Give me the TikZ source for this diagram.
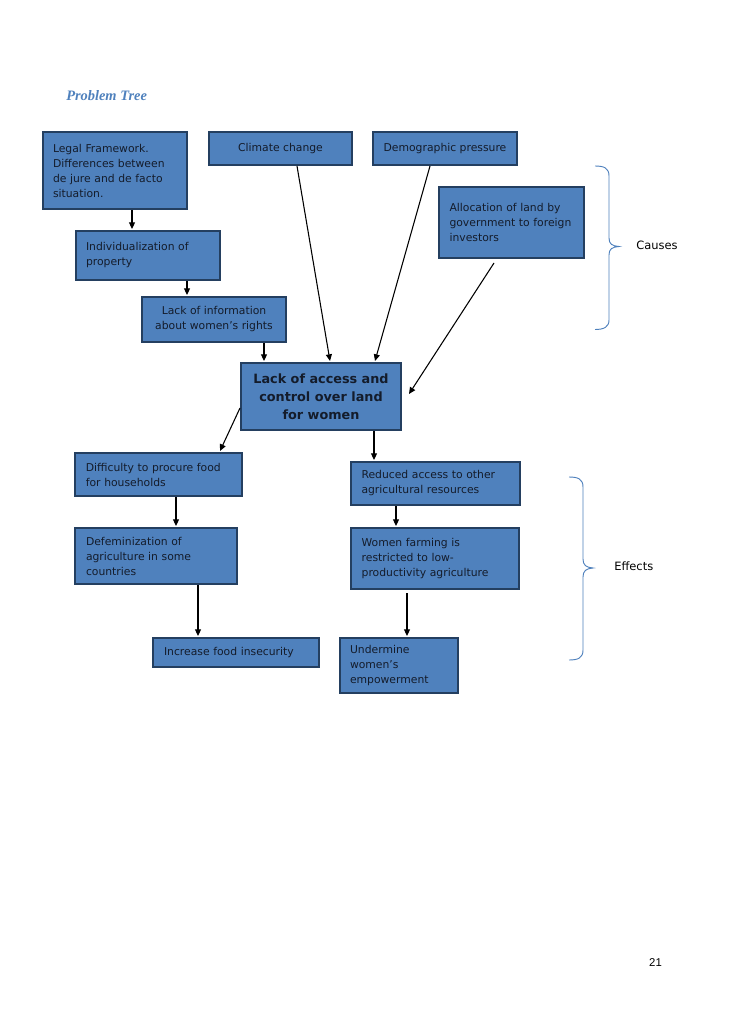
\documentclass[tikz,border=0pt]{standalone}
\usepackage{fontspec}
\setmainfont{DejaVu Sans}
\newfontfamily\titlefont{Liberation Serif}
\newfontfamily\pagefont{Liberation Sans}
\usetikzlibrary{arrows.meta,calc}
\definecolor{boxfill}{HTML}{4F81BD}
\definecolor{boxline}{HTML}{243F60}
\definecolor{boxtext}{HTML}{141C2B}
\definecolor{bracecol}{HTML}{4F81BD}
\tikzset{
  box/.style={draw=boxline, fill=boxfill, line width=1.5pt, inner sep=0pt,
    text=boxtext, font=\fontsize{8.1pt}{11.25pt}\selectfont},
  arr/.style={-{Triangle[width=4.5pt,length=5pt]}, line width=0.8pt, black},
  bracestyle/.style={draw=bracecol, line width=0.7pt},
  sidelabel/.style={anchor=west, font=\fontsize{8.6pt}{10pt}\selectfont, text=black, inner sep=0pt}
}
\begin{document}
\begin{tikzpicture}[x=0.75pt,y=-0.75pt]
\useasboundingbox[fill=white] (0,0) rectangle (728,1030);

\node[anchor=base west, inner sep=0pt, text=boxfill, font=\titlefont\bfseries\itshape\fontsize{10.8pt}{12pt}\selectfont] (title) at (66,101) {Problem Tree};

% cause boxes
\node[box, minimum width=108pt, minimum height=57.75pt, text width=93pt, align=left] (legal) at (115,170.5)
  {Legal Framework.\\Differences between\\de jure and de facto\\situation.};
\node[box, minimum width=107.25pt, minimum height=24.75pt, align=center] (climate) at (280.5,148.5) {Climate change};
\node[box, minimum width=108pt, minimum height=24.75pt, align=center] (demo) at (445,148.5) {Demographic pressure};
\node[box, minimum width=108.75pt, minimum height=53.25pt, text width=93pt, align=left] (alloc) at (511.5,222.5)
  {Allocation of land by\\government to foreign\\investors};
\node[box, minimum width=108pt, minimum height=36.75pt, text width=93pt, align=left] (indiv) at (148,255.5)
  {Individualization of\\property};
\node[box, minimum width=108pt, minimum height=33.75pt, align=center] (info) at (214,319.5)
  {Lack of information\\about women's rights};
\node[box, minimum width=120pt, minimum height=50.25pt, align=center,
  font=\bfseries\fontsize{9.6pt}{13.5pt}\selectfont] (core) at (321,396.5)
  {Lack of access and\\control over land\\for women};

% effect boxes
\node[box, minimum width=125.25pt, minimum height=32.25pt, text width=109pt, align=left] (diff) at (158.5,474.5)
  {Difficulty to procure food\\for households};
\node[box, minimum width=126.75pt, minimum height=32.25pt, text width=111pt, align=left] (reduced) at (435.5,483.5)
  {Reduced access to other\\agricultural resources};
\node[box, minimum width=121.5pt, minimum height=42pt, text width=105pt, align=left] (defem) at (156,556)
  {Defeminization of\\agriculture in some\\countries};
\node[box, minimum width=126pt, minimum height=45.75pt, text width=110pt, align=left] (women) at (435,558.5)
  {Women farming is\\restricted to low-\\productivity agriculture};
\node[box, minimum width=124.5pt, minimum height=21.75pt, text width=108pt, align=left] (increase) at (236,652.5)
  {Increase food insecurity};
\node[box, minimum width=88.5pt, minimum height=41.25pt, text width=73.5pt, align=left] (under) at (399,665.5)
  {Undermine\\women’s\\empowerment};

% connectors
\draw[arr] ($(legal.south)+(17,0)$) -- ($(indiv.north)+(-16,-1)$);
\draw[arr] ($(indiv.south)+(39,0)$) -- ($(info.north)+(-27,-1)$);
\draw[arr] ($(info.south)+(50,0)$) -- ($(core.north)+(-57,-1)$);
\draw[arr] ($(climate.south)+(16.5,0)$) -- ($(core.north)+(9,-1)$);
\draw[arr] ($(demo.south)+(-15,0)$) -- ($(core.north)+(54,-1)$);
\draw[arr] ($(alloc.south)+(-17.5,4)$) -- ($(core.east)+(7,-2.5)$);
\draw[arr] ($(core.west)+(0,11.5)$) -- ($(diff.north)+(61.5,-1)$);
\draw[arr] ($(core.south)+(53,0)$) -- ($(reduced.north)+(-61.5,-1)$);
\draw[arr] ($(diff.south)+(17.5,0)$) -- ($(defem.north)+(20,-1)$);
\draw[arr] ($(defem.south)+(42,0)$) -- ($(increase.north)+(-38,-1)$);
\draw[arr] ($(reduced.south)+(-39.5,0)$) -- ($(women.north)+(-39,-1)$);
\draw[arr] ($(women.south)+(-28,3)$) -- ($(under.north)+(8,-1)$);

% braces
\draw[bracestyle] (595,166) .. controls (604,166) and (609,168) .. (609,176) -- (609,238)
  .. controls (609,244) and (612,246) .. (619,246.5)
  .. controls (612,247) and (609,249) .. (609,255) -- (609,320)
  .. controls (609,327) and (604,329.5) .. (595,329.5);
\node[sidelabel] (causes) at (636,245) {Causes};

\draw[bracestyle] (569,477) .. controls (578,477) and (583,479) .. (583,487) -- (583,559)
  .. controls (583,565) and (586,567.5) .. (593,568)
  .. controls (586,568.5) and (583,571) .. (583,577) -- (583,650)
  .. controls (583,658) and (578,660) .. (569,660);
\node[sidelabel] (effects) at (614,566) {Effects};

\node[font=\pagefont\fontsize{8.5pt}{10pt}\selectfont, inner sep=0pt] (pagenum) at (655.5,963) {21};
\end{tikzpicture}
\end{document}
